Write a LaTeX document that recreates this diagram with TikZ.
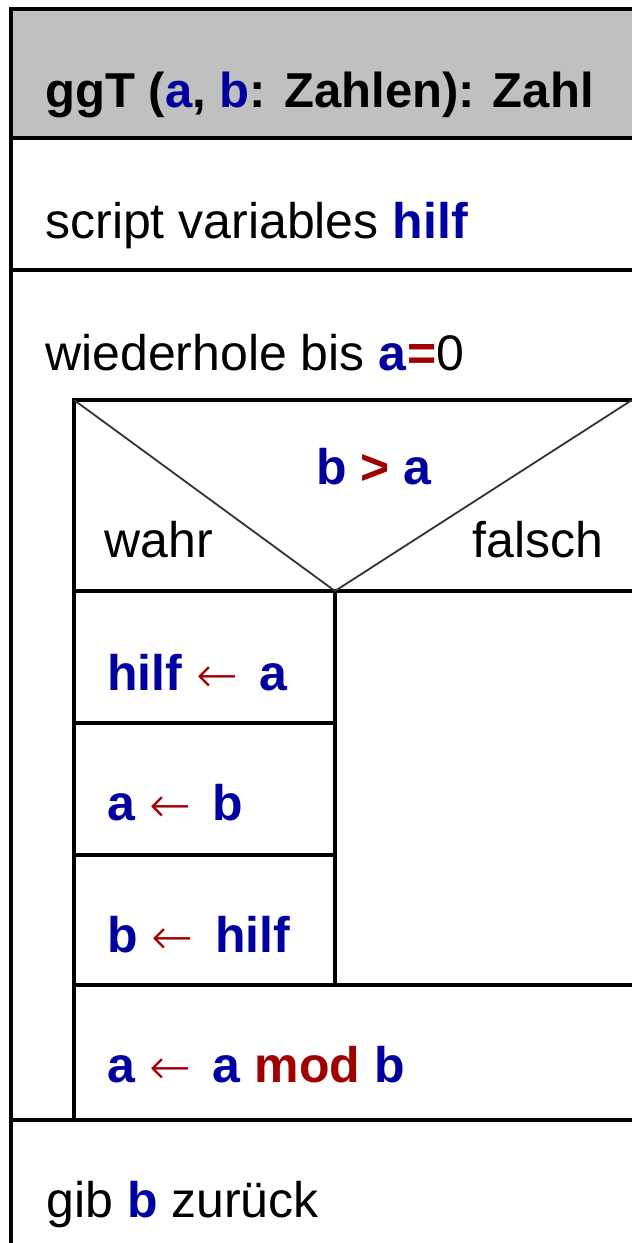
\documentclass[tikz,border=0pt]{standalone}
\usepackage{fontspec}
\setmainfont{Liberation Sans}
\newfontfamily\arrowfont{DejaVu Sans ExtraLight}
\definecolor{varblue}{RGB}{0,0,160}
\definecolor{opred}{RGB}{160,0,0}
\definecolor{headgray}{RGB}{192,192,192}
\newcommand{\var}[1]{\textcolor{varblue}{\textbf{#1}}}
\newcommand{\op}[1]{\textcolor{opred}{\textbf{#1}}}
\newcommand{\assign}{\textcolor{opred}{\raisebox{-0.04em}{\arrowfont ←}}\kern0.15em}

\begin{document}
\begin{tikzpicture}
[x=0.5pt,y=-0.5pt,
  boxline/.style={line width=1.7pt},
  diagline/.style={line width=0.9pt,draw=black!80},
  textdecorate/.style={anchor=base west,inner sep=0pt,
    font=\fontsize{25}{30}\selectfont}]
\useasboundingbox (0,0) rectangle (632,1243);
%% frame and header
\fill[headgray] (11,9) rectangle (632,138);
\draw[boxline] (632,9) -- (11,9) -- (11,1243);
\foreach \y in {138,270,1120}
  \draw[boxline] (11,\y) -- (632,\y);
%% loop body with the branch
\draw[boxline] (632,400) -- (74,400) -- (74,1120);
\foreach \y in {591,985}
  \draw[boxline] (74,\y) -- (632,\y);
\foreach \y in {723,855}
  \draw[boxline] (74,\y) -- (335,\y);
\draw[boxline] (335,591) -- (335,985);
\draw[diagline] (74,400) -- (335,591) -- (632,400);
%% texts
\node (head) at (45,107) [textdecorate,font=\fontsize{24.5}{30}\selectfont]
  {\bfseries ggT (\var{a}, \var{b}: Zahlen): Zahl};
\node (vars) at (45,238) [textdecorate] {script variables \var{hilf}};
\node (loop) at (45,370) [textdecorate] {wiederhole bis \var{a}\op{=}0};
\node (cond) at (374,484) [textdecorate,anchor=base]
  {\var{b} \op{>} \var{a}};
\node (yes) at (104,557) [textdecorate] {wahr};
\node (no) at (472,557) [textdecorate] {falsch};
\foreach \nodename/\y/\content in {s1/690/{\var{hilf} \assign{} \var{a}},
  s2/820/{\var{a} \assign{} \var{b}}, s3/952/{\var{b} \assign{} \var{hilf}},
  s4/1082/{\var{a} \assign{} \var{a} \op{mod} \var{b}}} {
  \node (\nodename) at (107,\y) [textdecorate] {\content};
}
\node (ret) at (46,1217) [textdecorate] {gib \var{b} zurück};
\end{tikzpicture}
\end{document}
